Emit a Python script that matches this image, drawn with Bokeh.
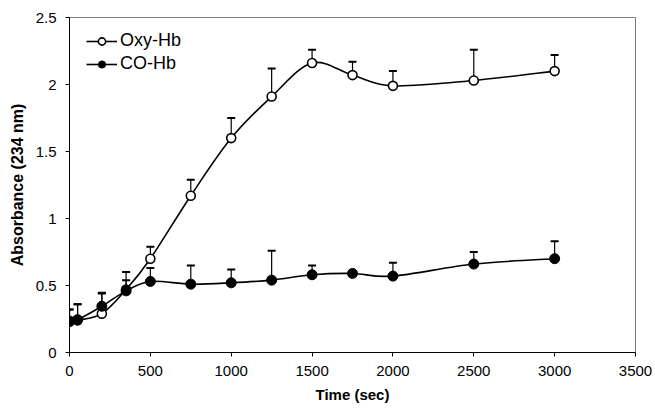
from bokeh.plotting import figure
from bokeh.models import (ColumnDataSource, Whisker, TeeHead, FixedTicker,
                          Range1d, Legend, LegendItem)
from bokeh.embed import file_html
from bokeh.resources import INLINE

# Time course of absorbance at 234 nm (mean and upper SD)
time_sec = [0, 50, 200, 350, 500, 750, 1000, 1250, 1500, 1750, 2000, 2500, 3000]
oxy_hb = [0.23, 0.24, 0.29, 0.47, 0.70, 1.17, 1.60, 1.91, 2.16, 2.07, 1.99, 2.03, 2.10]
oxy_sd = [0.09, 0.12, 0.15, 0.13, 0.09, 0.12, 0.15, 0.21, 0.10, 0.10, 0.11, 0.23, 0.12]
co_hb = [0.235, 0.245, 0.345, 0.46, 0.53, 0.51, 0.52, 0.54, 0.58, 0.59, 0.57, 0.66, 0.70]
co_sd = [0.085, 0.115, 0.10, 0.08, 0.10, 0.14, 0.10, 0.22, 0.07, 0.01, 0.10, 0.09, 0.13]

x_ticks = [0, 500, 1000, 1500, 2000, 2500, 3000, 3500]
y_ticks = [0, 0.5, 1, 1.5, 2, 2.5]
y_tick_labels = ["0", "0.5", "1", "1.5", "2", "2.5"]

FONT = "Liberation Sans"


def smooth_segments(xs, ys):
    """Cubic Bezier control points (Catmull-Rom style) through the data points."""
    n = len(xs)
    seg = dict(x0=[], y0=[], x1=[], y1=[], cx0=[], cy0=[], cx1=[], cy1=[])
    for i in range(n - 1):
        xp, yp = (xs[i - 1], ys[i - 1]) if i > 0 else (xs[i], ys[i])
        xn, yn = (xs[i + 2], ys[i + 2]) if i + 2 < n else (xs[i + 1], ys[i + 1])
        seg["x0"].append(xs[i]); seg["y0"].append(ys[i])
        seg["x1"].append(xs[i + 1]); seg["y1"].append(ys[i + 1])
        seg["cx0"].append(xs[i] + (xs[i + 1] - xp) / 6)
        seg["cy0"].append(ys[i] + (ys[i + 1] - yp) / 6)
        seg["cx1"].append(xs[i + 1] - (xn - xs[i]) / 6)
        seg["cy1"].append(ys[i + 1] - (yn - ys[i]) / 6)
    return ColumnDataSource(seg)


p = figure(width=655, height=411, output_backend="svg", toolbar_location=None,
           x_range=Range1d(0, 3500), y_range=Range1d(0, 2.5),
           min_border_left=69, min_border_right=20, min_border_top=17,
           min_border_bottom=59)
p.background_fill_color = "white"
p.border_fill_color = "white"
p.outline_line_color = "#7f7f7f"
p.outline_line_width = 1
p.xgrid.visible = False
p.ygrid.visible = False

# axes
for ax in (p.xaxis[0], p.yaxis[0]):
    ax.axis_line_color = "black"
    ax.major_tick_line_color = "black"
    ax.major_tick_in = 0
    ax.major_tick_out = 4
    ax.minor_tick_line_color = None
    ax.major_label_text_font = FONT
    ax.major_label_text_font_size = "15px"
    ax.major_label_text_color = "black"
    ax.axis_label_text_font = FONT
    ax.axis_label_text_font_style = "bold"
    ax.axis_label_text_color = "black"

p.xaxis.ticker = FixedTicker(ticks=x_ticks)
p.xaxis.axis_label = "Time (sec)"
p.xaxis.axis_label_text_font_size = "15px"
p.xaxis.major_label_standoff = 9
p.xaxis.axis_label_standoff = 7

p.yaxis.ticker = FixedTicker(ticks=y_ticks)
p.yaxis.major_label_overrides = {t: s for t, s in zip(y_ticks, y_tick_labels)}
p.yaxis.axis_label = "Absorbance (234 nm)"
p.yaxis.axis_label_text_font_size = "16px"
p.yaxis.major_label_standoff = 9
p.yaxis.axis_label_standoff = 7

# error bars (upper only)
oxy_src = ColumnDataSource(dict(x=time_sec, y=oxy_hb,
                                upper=[m + s for m, s in zip(oxy_hb, oxy_sd)]))
co_src = ColumnDataSource(dict(x=time_sec, y=co_hb,
                               upper=[m + s for m, s in zip(co_hb, co_sd)]))
for src in (oxy_src, co_src):
    p.add_layout(Whisker(source=src, base="x", upper="upper", lower="y",
                         line_color="black", line_width=1.2,
                         upper_head=TeeHead(size=8, line_color="black", line_width=2),
                         lower_head=None))

# smoothed curves and markers
oxy_curve = p.bezier(source=smooth_segments(time_sec, oxy_hb), x0="x0", y0="y0",
                     x1="x1", y1="y1", cx0="cx0", cy0="cy0", cx1="cx1", cy1="cy1",
                     line_color="black", line_width=1.6)
oxy_pts = p.scatter("x", "y", source=oxy_src, marker="circle", size=9,
                    fill_color="white", line_color="black", line_width=1.6)

co_curve = p.bezier(source=smooth_segments(time_sec, co_hb), x0="x0", y0="y0",
                    x1="x1", y1="y1", cx0="cx0", cy0="cy0", cx1="cx1", cy1="cy1",
                    line_color="black", line_width=1.6)
co_pts = p.scatter("x", "y", source=co_src, marker="circle", size=10,
                   fill_color="black", line_color="black", line_width=1)

legend = Legend(items=[LegendItem(label="Oxy-Hb", renderers=[oxy_curve, oxy_pts]),
                       LegendItem(label="CO-Hb", renderers=[co_curve, co_pts])],
                location=(17, 278), border_line_color=None,
                background_fill_alpha=0, label_text_font=FONT,
                label_text_font_size="18px", label_text_color="black",
                glyph_width=31, glyph_height=18, label_standoff=3,
                spacing=2, padding=4, margin=0)
p.add_layout(legend)

open("out.html", "w").write(file_html(p, INLINE))
